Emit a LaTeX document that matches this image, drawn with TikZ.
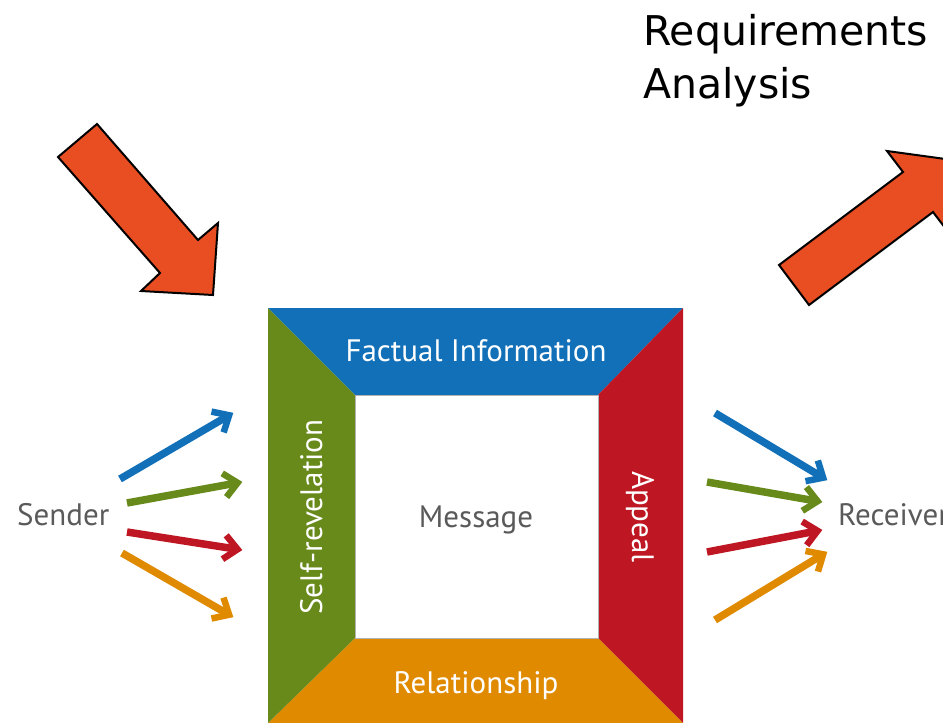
\documentclass[tikz,border=0pt]{standalone}
\usepackage{fontspec}
\setmainfont{PT Sans}
\newfontfamily\titlefont{DejaVu Sans}
\usetikzlibrary{arrows.meta,calc}
\definecolor{cblue}{HTML}{1170B8}
\definecolor{cgreen}{HTML}{678A1A}
\definecolor{cred}{HTML}{BE1622}
\definecolor{corange}{HTML}{E08A00}
\definecolor{cbig}{HTML}{E84E22}
\definecolor{cgray}{HTML}{5A5A5A}
\tikzset{
  lbl/.style={inner sep=0pt, font=\fontsize{31}{37}\selectfont},
  inlbl/.style={lbl, text=white},
  shaft/.style={line width=7.5pt, line cap=butt},
  chevron/.style={line width=6.5pt, line join=miter, miter limit=10, line cap=butt},
  bigarrow/.style={fill=cbig, draw=black, line width=2pt, line join=miter},
}
% #1 start, #2 tip, #3 colour
\newcommand\chevarrow[3]{%
  \coordinate (v) at ($(#2)!4.5pt!(#1)$);
  \draw[shaft, #3] (#1) -- (v);
  \draw[chevron, #3] ($(v)!18pt!42:(#1)$) -- (v) -- ($(v)!18pt!-42:(#1)$);
}
\begin{document}
\begin{tikzpicture}[x=1pt,y=-1pt]
\useasboundingbox (0,0) rectangle (943,723);
\clip (0,0) rectangle (943,723);
% square frame
\coordinate (o1) at (268,308); \coordinate (o2) at (683,308);
\coordinate (o3) at (683,723); \coordinate (o4) at (268,723);
\coordinate (i1) at (355,395); \coordinate (i2) at (598,395);
\coordinate (i3) at (598,638); \coordinate (i4) at (355,638);
\fill[cblue] (o1) -- (o2) -- (i2) -- (i1) -- cycle;
\fill[cred] (o2) -- (o3) -- (i3) -- (i2) -- cycle;
\fill[corange] (o3) -- (o4) -- (i4) -- (i3) -- cycle;
\fill[cgreen] (o4) -- (o1) -- (i1) -- (i4) -- cycle;
\draw[gray!60, line width=0.8pt, fill=white] (i1) rectangle (i3);
% labels
\node[inlbl, anchor=base] (fact) at (476,361) {Factual Information};
\node[inlbl, anchor=base] (rel) at (476,693) {Relationship};
\node[inlbl, anchor=base, rotate=90] (self) at (322,517) {Self-revelation};
\node[inlbl, anchor=base, rotate=-90] (app) at (632,517) {Appeal};
\node[lbl, text=cgray, anchor=base] (msg) at (476,527) {Message};
\node[lbl, text=cgray, anchor=base west] (sender) at (17,525) {Sender};
\node[lbl, text=cgray, anchor=base west] (receiver) at (838,525) {Receiver};
% sender arrows
\coordinate (sb) at (120,479); \coordinate (sbt) at (233,413);
\coordinate (sg) at (127,503); \coordinate (sgt) at (242,482);
\coordinate (sr) at (127,532); \coordinate (srt) at (242,550);
\coordinate (so) at (122,553); \coordinate (sot) at (233,617);
\chevarrow{sb}{sbt}{cblue}
\chevarrow{sg}{sgt}{cgreen}
\chevarrow{sr}{srt}{cred}
\chevarrow{so}{sot}{corange}
% receiver arrows
\coordinate (rb) at (715,413); \coordinate (rbt) at (827,480);
\coordinate (rg) at (707,482); \coordinate (rgt) at (822,502);
\coordinate (rr) at (707,552); \coordinate (rrt) at (822,530);
\coordinate (ro) at (715,620); \coordinate (rot) at (827,552);
\chevarrow{rb}{rbt}{cblue}
\chevarrow{rg}{rgt}{cgreen}
\chevarrow{rr}{rrt}{cred}
\chevarrow{ro}{rot}{corange}
% big arrows
\draw[bigarrow] (58,157) -- (97,124) -- (198,240) -- (218,223) -- (213,295) -- (141,291) -- (160,273) -- cycle;
\draw[bigarrow] (779,265) -- (903,172) -- (887,151) -- (960,161) -- (949,233) -- (933,212) -- (809,305) -- cycle;
% title
\node[inner sep=0pt, anchor=base west, font=\titlefont\fontsize{41}{53}\selectfont] (title) at (643,45) {Requirements};
\node[inner sep=0pt, anchor=base west, font=\titlefont\fontsize{41}{53}\selectfont] (title2) at (643,98) {Analysis};
\end{tikzpicture}
\end{document}
